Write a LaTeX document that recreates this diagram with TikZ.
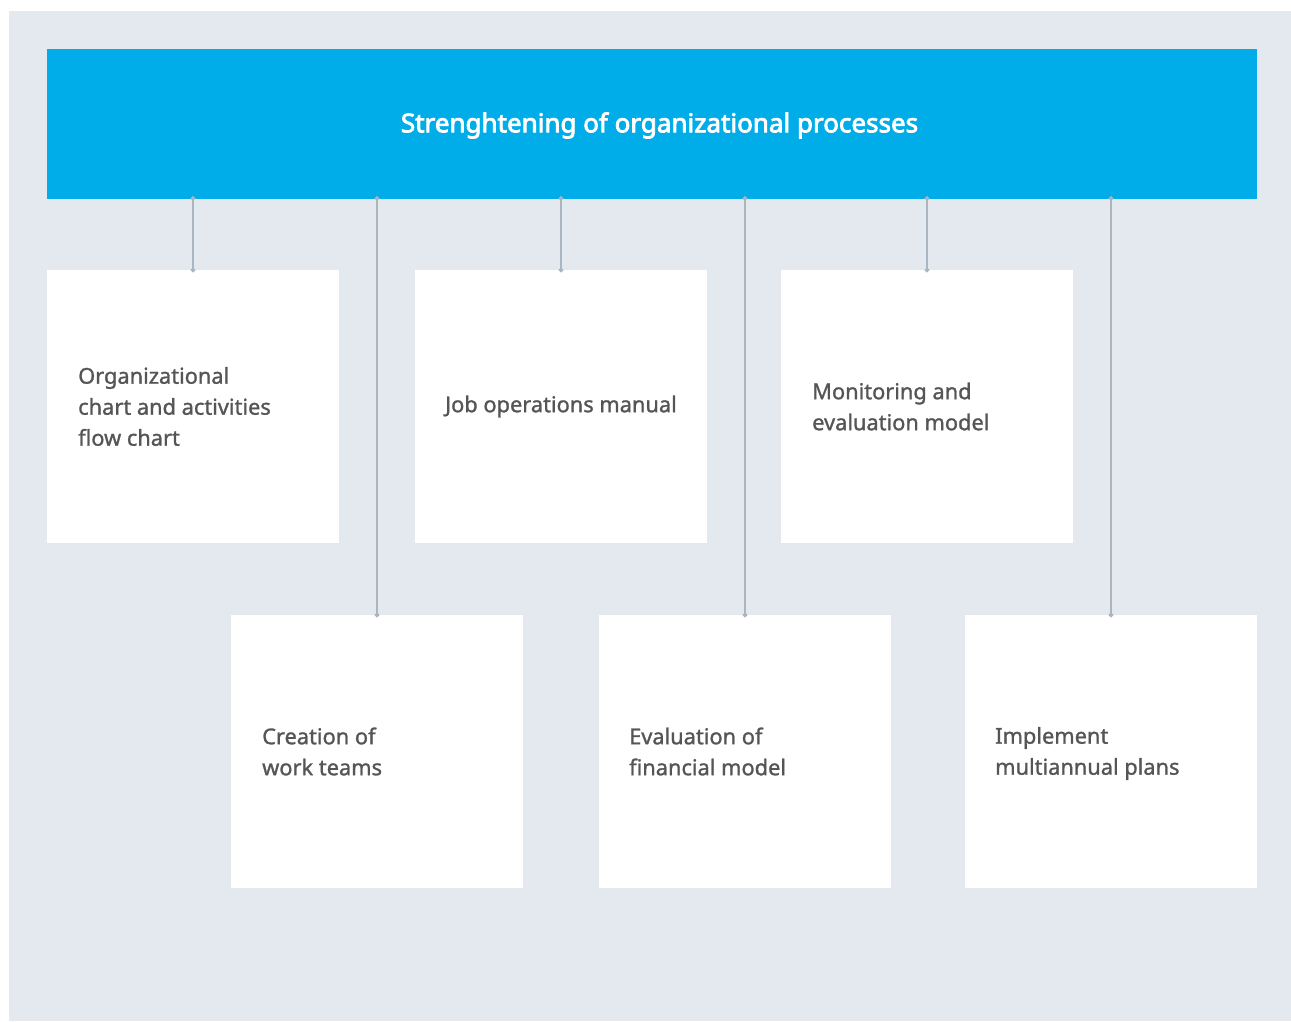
\documentclass[tikz,border=0pt]{standalone}
\usepackage{fontspec}
\setmainfont{Noto Sans}
\newfontfamily\titlefont{Noto Sans}[FakeBold=3]
\newfontfamily\bodyfont{Noto Sans}[FakeBold=1.2]
\usetikzlibrary{arrows.meta}
\definecolor{panel}{HTML}{E4E9F0}
\definecolor{headblue}{HTML}{00ADE8}
\definecolor{connc}{HTML}{A9B6C2}
\definecolor{txt}{HTML}{555555}
\tikzset{
  box/.style={fill=white, draw=none, minimum width=292pt, minimum height=273pt, anchor=north west, inner sep=0pt, outer sep=0pt},
  boxtext/.style={anchor=west, align=left, text=txt, font=\bodyfont\fontsize{21.8}{31}\selectfont, inner sep=0pt},
  conn/.style={draw=connc, line width=1.8pt, {Circle[length=4.6pt]}-{Circle[length=4.6pt]}, shorten <=-2.3pt, shorten >=-2.3pt}
}
\begin{document}
\begin{tikzpicture}[x=1pt,y=-1pt]
\useasboundingbox (0,0) rectangle (1291,1021);
\fill[white] (0,0) rectangle (1291,1021);
\fill[panel] (9,11) rectangle (1291,1021);
\node[fill=headblue, minimum width=1210pt, minimum height=149.5pt, anchor=north west, inner sep=0pt, outer sep=0pt] (head) at (47,49) {};
\node[text=white, font=\titlefont\fontsize{26}{30}\selectfont, inner sep=0pt] (title) at (659.5,125.5) {Strenghtening of organizational processes};
% row 1
\node[box] (b1) at (47,270) {};
\node[box] (b3) at (415,270) {};
\node[box] (b5) at (781,270) {};
% row 2
\node[box] (b2) at (231,615) {};
\node[box] (b4) at (599,615) {};
\node[box] (b6) at (965,615) {};
% texts
\node[boxtext] (t1) at ([xshift=31pt]b1.west) {Organizational\\chart and activities\\flow chart};
\node[boxtext] (t3) at ([xshift=30pt]b3.west) {Job operations manual};
\node[boxtext] (t5) at ([xshift=31pt]b5.west) {Monitoring and\\evaluation model};
\node[boxtext] (t2) at ([xshift=31pt]b2.west) {Creation of\\work teams};
\node[boxtext] (t4) at ([xshift=30pt]b4.west) {Evaluation of\\financial model};
\node[boxtext] (t6) at ([xshift=30pt,yshift=-2pt]b6.west) {Implement\\multiannual plans};
% connectors
\foreach \b in {b1,b2,b3,b4,b5,b6}{
  \draw[conn] (\b.north |- head.south) -- (\b.north);
}
\end{tikzpicture}
\end{document}
